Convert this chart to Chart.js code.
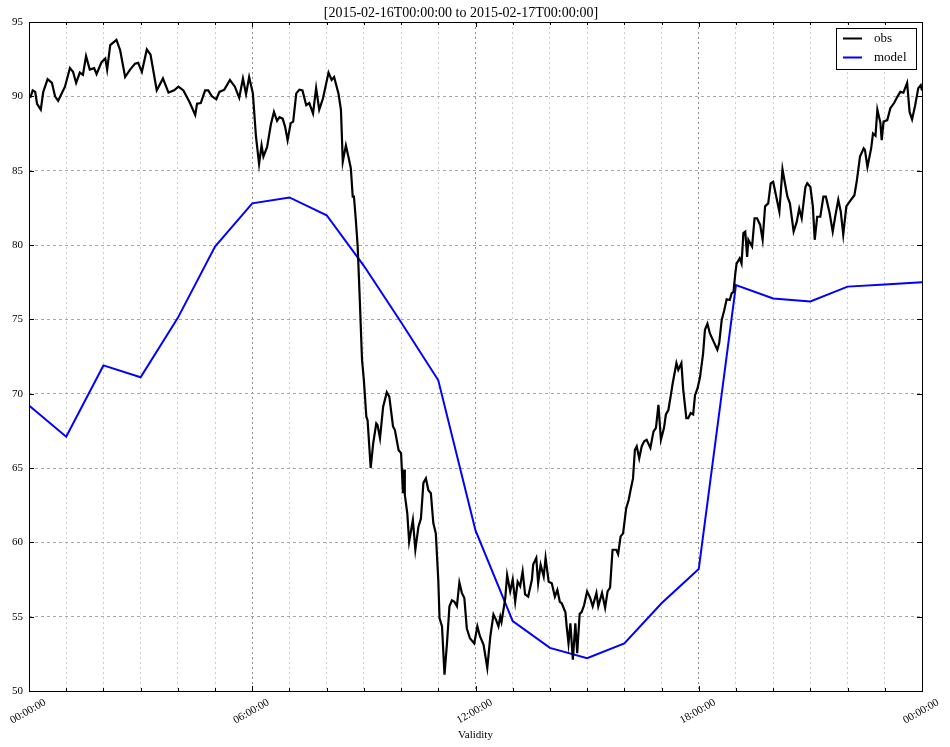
<!DOCTYPE html>
<html lang="en">
<head>
    <meta charset="UTF-8">
    <title>obs vs model</title>
    <script src="https://cdn.jsdelivr.net/npm/chart.js"></script>
    <style>
        body {
            margin: 0;
            background: #fff;
        }
    </style>
</head>
<body>
<canvas id="chart" width="950" height="747"></canvas>

<script>
        // minutes since 2015-02-16T00:00:00
        const obsMinutes = [2, 6, 10, 13, 19, 23, 30, 37, 42, 47, 58, 66, 71, 76, 82, 87, 92, 98, 105, 109,
            117, 123, 126, 131, 141, 147, 155, 163, 171, 176, 182, 190, 196, 206, 216, 225, 234, 241, 249, 259,
            268, 271, 277, 284, 289, 295, 302, 307, 315, 324, 332, 339, 345, 350, 355, 361, 366, 371, 375, 378,
            384, 390, 395, 400, 404, 409, 413, 417, 422, 426, 431, 436, 441, 447, 452, 458, 463, 468, 474, 483,
            488, 492, 499, 503, 506, 511, 515, 519, 522, 524, 527, 530, 533, 537, 540, 544, 546, 551, 555, 560,
            562, 566, 571, 577, 581, 587, 590, 596, 600, 603, 605, 606, 610, 613, 619, 623, 628, 632, 636, 640,
            644, 648, 652, 656, 660, 662, 666, 670, 674, 678, 682, 686, 690, 694, 698, 702, 706, 711, 718, 723,
            727, 733, 739, 744, 749, 753, 757, 760, 762, 768, 771, 776, 780, 784, 788, 792, 796, 800, 805, 811,
            813, 818, 821, 825, 830, 833, 838, 843, 848, 852, 856, 859, 865, 867, 870, 873, 877, 881, 884, 888,
            891, 895, 900, 905, 909, 915, 918, 924, 929, 933, 937, 941, 947, 950, 954, 958, 963, 967, 970, 974,
            977, 980, 984, 988, 992, 996, 1002, 1007, 1011, 1015, 1019, 1024, 1027, 1031, 1035, 1038, 1044, 1047, 1052, 1055,
            1060, 1063, 1067, 1071, 1074, 1078, 1082, 1087, 1090, 1094, 1098, 1104, 1110, 1113, 1117, 1121, 1125, 1130, 1133, 1136,
            1139, 1141, 1146, 1149, 1152, 1155, 1158, 1160, 1166, 1170, 1174, 1179, 1183, 1187, 1192, 1196, 1200, 1206, 1210, 1215,
            1219, 1223, 1227, 1233, 1238, 1242, 1246, 1252, 1255, 1260, 1264, 1267, 1271, 1276, 1281, 1285, 1291, 1296, 1300, 1305,
            1309, 1313, 1318, 1323, 1331, 1335, 1340, 1346, 1348, 1352, 1358, 1361, 1365, 1368, 1373, 1375, 1378, 1384, 1389, 1395,
            1400, 1405, 1410, 1416, 1420, 1424, 1429, 1434, 1438, 1440];
        const obsValues = [89.9, 90.4, 90.3, 89.5, 89.1, 90.3, 91.15, 90.9, 90.0, 89.7, 90.65, 91.9, 91.65, 90.9, 91.6, 91.45, 92.7, 91.8, 91.9, 91.5,
            92.3, 92.55, 91.8, 93.45, 93.8, 93.1, 91.3, 91.8, 92.2, 92.25, 91.65, 93.15, 92.8, 90.4, 91.2, 90.25, 90.4, 90.65, 90.4, 89.6,
            88.75, 89.5, 89.55, 90.4, 90.4, 90.0, 89.8, 90.3, 90.45, 91.1, 90.65, 89.9, 91.2, 90.15, 91.3, 90.2, 87.3, 85.45, 86.7, 85.95,
            86.6, 88.1, 88.95, 88.35, 88.6, 88.5, 87.95, 87.05, 88.2, 88.3, 90.2, 90.45, 90.4, 89.4, 89.55, 88.85, 90.55, 89.1, 89.85, 91.6,
            91.1, 91.3, 90.2, 89.1, 85.6, 86.7, 85.95, 85.15, 83.25, 83.25, 81.7, 79.9, 76.75, 72.3, 70.9, 68.45, 68.2, 65.0, 66.65, 68.0,
            67.9, 67.0, 69.1, 70.1, 69.8, 67.8, 67.55, 66.2, 66.0, 63.3, 64.9, 63.2, 61.95, 60.05, 61.5, 59.5, 61.05, 61.6, 64.0, 64.3,
            63.5, 63.3, 61.3, 60.6, 57.45, 54.9, 54.35, 51.1, 53.2, 55.7, 56.1, 56.0, 55.7, 57.3, 56.6, 56.25, 54.2, 53.55, 53.2, 54.35,
            53.7, 53.1, 51.55, 53.7, 55.15, 54.8, 54.35, 55.0, 54.65, 56.25, 57.8, 56.7, 57.5, 56.0, 57.35, 57.05, 58.05, 56.5, 56.35, 57.5,
            58.5, 58.95, 57.25, 58.5, 57.7, 58.95, 57.35, 57.25, 56.35, 56.8, 56.0, 55.9, 55.3, 54.35, 53.2, 54.55, 52.1, 54.55, 52.55, 55.2,
            55.3, 55.75, 56.7, 56.25, 55.7, 56.6, 55.7, 56.6, 55.6, 56.7, 56.95, 59.5, 59.5, 59.2, 60.4, 60.6, 62.3, 62.85, 63.5, 64.3,
            66.2, 66.45, 65.65, 66.45, 66.8, 66.9, 66.35, 67.45, 67.7, 69.25, 66.9, 67.7, 68.6, 68.9, 69.9, 70.7, 72.05, 71.6, 72.05, 70.25,
            68.35, 68.35, 68.7, 68.6, 69.9, 70.35, 71.1, 72.7, 74.3, 74.7, 74.05, 73.5, 72.95, 73.4, 74.95, 75.6, 76.35, 76.3, 76.75, 76.85,
            78.1, 78.75, 79.1, 78.75, 80.8, 80.9, 79.2, 80.35, 79.9, 81.8, 81.8, 81.35, 80.35, 82.6, 82.8, 84.15, 84.25, 83.05, 82.25, 85.1,
            84.15, 83.25, 82.8, 80.9, 81.55, 82.45, 81.8, 83.9, 84.15, 83.9, 82.6, 80.35, 81.9, 81.9, 83.25, 83.25, 82.15, 80.9, 81.9, 83.05,
            82.25, 80.7, 82.6, 82.9, 83.35, 84.35, 85.95, 86.5, 86.4, 85.25, 86.5, 87.5, 87.35, 89.1, 88.2, 87.05, 88.3, 88.4, 89.2, 89.55,
            89.95, 90.3, 90.25, 90.9, 88.95, 88.45, 89.4, 90.55, 90.75, 90.4];

        // model output, hourly
        const modelMinutes = [0, 60, 120, 180, 240, 300, 360, 420, 480, 540, 600, 660, 720,
            780, 840, 900, 960, 1020, 1080, 1140, 1200, 1260, 1320, 1380, 1440];
        const modelValues = [69.2, 67.1, 71.9, 71.1, 75.1, 79.9, 82.8, 83.2, 82.0, 78.6, 74.8, 70.9, 60.8,
            54.7, 52.9, 52.2, 53.2, 55.9, 58.2, 77.3, 76.4, 76.2, 77.2, 77.35, 77.5];

        const titleText = '[2015-02-16T00:00:00 to 2015-02-17T00:00:00]';
        const xLabel = 'Validity';

        const serif = "'Liberation Serif', 'DejaVu Serif', serif";

        function toPoints(xs, ys) {
            return xs.map((x, i) => ({x: x, y: ys[i]}));
        }

        function fmtTime(m) {
            const h = Math.floor(m / 60) % 24;
            return String(h).padStart(2, '0') + ':00:00';
        }

        // matplotlib-like box, inward ticks and legend
        const framePlugin = {
            id: 'frame',
            afterDraw(chart) {
                const {ctx, chartArea: a, scales} = chart;
                ctx.save();
                ctx.strokeStyle = '#000';
                ctx.lineWidth = 1;
                ctx.beginPath();
                scales.x.ticks.forEach(t => {
                    const px = Math.round(scales.x.getPixelForValue(t.value)) + 0.5;
                    const len = t.value % 360 === 0 ? 5 : 3;
                    ctx.moveTo(px, a.bottom); ctx.lineTo(px, a.bottom - len);
                    ctx.moveTo(px, a.top); ctx.lineTo(px, a.top + len);
                });
                scales.y.ticks.forEach(t => {
                    const py = Math.round(scales.y.getPixelForValue(t.value)) + 0.5;
                    ctx.moveTo(a.left, py); ctx.lineTo(a.left + 5, py);
                    ctx.moveTo(a.right, py); ctx.lineTo(a.right - 5, py);
                });
                ctx.stroke();
                ctx.strokeRect(Math.round(a.left) + 0.5, Math.round(a.top) + 0.5,
                    Math.round(a.right - a.left), Math.round(a.bottom - a.top));

                // legend box, upper right
                const ds = chart.data.datasets;
                const bx = a.right - 86, by = a.top + 6, bw = 80, bh = 41;
                ctx.fillStyle = '#fff';
                ctx.fillRect(bx, by, bw, bh);
                ctx.strokeRect(bx + 0.5, by + 0.5, bw, bh);
                ctx.font = '13px ' + serif;
                ctx.textBaseline = 'middle';
                ds.forEach((d, i) => {
                    const ly = by + 10.5 + i * 19;
                    ctx.strokeStyle = d.borderColor;
                    ctx.lineWidth = 2;
                    ctx.beginPath();
                    ctx.moveTo(bx + 7, ly); ctx.lineTo(bx + 26, ly);
                    ctx.stroke();
                    ctx.fillStyle = '#000';
                    ctx.fillText(d.label, bx + 38, ly);
                });
                ctx.restore();
            }
        };

        new Chart(document.getElementById('chart'), {
            type: 'line',
            data: {
                datasets: [{
                    label: 'obs',
                    data: toPoints(obsMinutes, obsValues),
                    borderColor: '#000000',
                    borderWidth: 2.2,
                    pointRadius: 0,
                    tension: 0
                }, {
                    label: 'model',
                    data: toPoints(modelMinutes, modelValues),
                    borderColor: '#0000ff',
                    borderWidth: 2,
                    pointRadius: 0,
                    tension: 0
                }]
            },
            options: {
                responsive: false,
                animation: false,
                layout: {padding: {left: 0, right: 28, top: 0, bottom: 0}},
                plugins: {
                    legend: {display: false},
                    tooltip: {enabled: false},
                    title: {
                        display: true,
                        text: titleText,
                        color: '#000',
                        font: {family: serif, size: 14, weight: 'normal'},
                        padding: {top: 5, bottom: 0.2}
                    }
                },
                scales: {
                    x: {
                        type: 'linear',
                        min: 0,
                        max: 1440,
                        afterFit: s => {
                            s.height = 56;
                            s.paddingLeft = 0;
                            s.paddingRight = 0;
                        },
                        border: {display: false, dash: [2, 3]},
                        grid: {
                            drawTicks: false,
                            color: c => (c.tick && c.tick.value % 360 === 0) ? '#8c8c8c' : '#cfcfcf'
                        },
                        ticks: {
                            stepSize: 60,
                            autoSkip: false,
                            minRotation: 30,
                            maxRotation: 30,
                            labelOffset: 16,
                            padding: 5,
                            color: '#000',
                            font: {family: serif, size: 11},
                            callback: v => v % 360 === 0 ? fmtTime(v) : ''
                        },
                        title: {
                            display: true,
                            text: xLabel,
                            color: '#000',
                            font: {family: serif, size: 11},
                            padding: {top: 0, bottom: 5}
                        }
                    },
                    y: {
                        min: 50,
                        max: 95,
                        afterFit: s => { s.width = 29; },
                        border: {display: false, dash: [3, 3]},
                        grid: {drawTicks: false, color: '#a8a8a8'},
                        ticks: {
                            stepSize: 5,
                            padding: 6,
                            color: '#000',
                            font: {family: serif, size: 11}
                        }
                    }
                }
            },
            plugins: [framePlugin]
        });
    </script>
</body>
</html>
